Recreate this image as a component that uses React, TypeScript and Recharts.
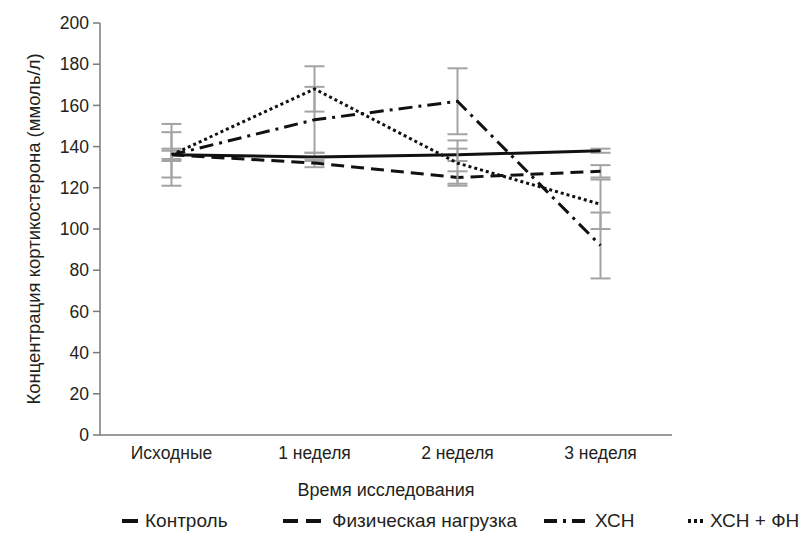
import React from "react";
import { ErrorBar, Line, LineChart, XAxis, YAxis } from "recharts";

const CATEGORIES = ["Исходные", "1 неделя", "2 неделя", "3 неделя"];

const CONTROL = [136, 135, 136, 138];
const PHYSICAL = [136, 132, 125, 128];
const CHF = [136, 153, 162, 92];
const CHF_PHYS = [136, 168, 132, 112];

const CONTROL_ERR = [2, 2, 3, 1];
const PHYSICAL_ERR = [3, 2, 3, 3];
const CHF_ERR = [11, 16, 16, 16];
const CHF_PHYS_ERR = [15, 11, 11, 12];

const Y_TICKS = [0, 20, 40, 60, 80, 100, 120, 140, 160, 180, 200];

const FONT = "'Liberation Sans', Arial, sans-serif";
const TEXT = "#231f20";
const AXIS = "#7a7a7a";
const ERR = "#a3a3a3";

const data = CATEGORIES.map((name, i) => ({
  name,
  control: CONTROL[i],
  controlErr: CONTROL_ERR[i],
  physical: PHYSICAL[i],
  physicalErr: PHYSICAL_ERR[i],
  chf: CHF[i],
  chfErr: CHF_ERR[i],
  chfPhys: CHF_PHYS[i],
  chfPhysErr: CHF_PHYS_ERR[i],
}));

// legend entries: icon left, text left, dash pattern
const legendItems = [
  { label: "Контроль", dash: undefined as string | undefined, x: 122, w: 16, tx: 145 },
  { label: "Физическая нагрузка", dash: "15 8", x: 283, w: 38, tx: 332 },
  { label: "ХСН", dash: "13 6 3 6", x: 544, w: 44, tx: 595 },
  { label: "ХСН + ФН", dash: "3 3", x: 688, w: 17, tx: 710 },
];

const YLabel = (props: any) => {
  const vb = props.viewBox || {};
  const x = 33;
  const y = vb.y + vb.height / 2;
  return (
    <text
      x={x}
      y={y}
      transform={`rotate(-90 ${x} ${y})`}
      textAnchor="middle"
      dominantBaseline="central"
      fontSize={18.5}
      fill={TEXT}
      fontFamily={FONT}
    >
      Концентрация кортикостерона (ммоль/л)
    </text>
  );
};

const XLabel = (props: any) => {
  const vb = props.viewBox || {};
  return (
    <text
      x={vb.x + vb.width / 2}
      y={vb.y + 61}
      textAnchor="middle"
      fontSize={18}
      fill={TEXT}
      fontFamily={FONT}
    >
      Время исследования
    </text>
  );
};

export default function App() {
  const lineProps = {
    type: "linear" as const,
    stroke: "#111",
    strokeWidth: 3,
    dot: false,
    activeDot: false,
    isAnimationActive: false,
  };
  const errProps = {
    direction: "y" as const,
    width: 10,
    stroke: ERR,
    strokeWidth: 2,
    isAnimationActive: false,
  };

  return (
    <div
      style={{
        position: "absolute",
        left: 0,
        top: 0,
        width: 808,
        height: 542,
        background: "#fff",
        fontFamily: FONT,
      }}
    >
      <LineChart
        width={808}
        height={542}
        data={data}
        margin={{ top: 23, right: 136, left: 0, bottom: 37 }}
      >
        <XAxis
          dataKey="name"
          height={70}
          padding={{ left: 71.5, right: 71.5 }}
          tickLine={false}
          tickSize={6}
          tickMargin={6}
          axisLine={{ stroke: AXIS, strokeWidth: 1.5 }}
          tick={{ fontSize: 17.5, fill: TEXT, fontFamily: FONT }}
          interval={0}
          label={<XLabel />}
        />
        <YAxis
          width={100}
          domain={[0, 200]}
          ticks={Y_TICKS}
          interval={0}
          tickSize={7}
          tickMargin={4}
          tickLine={{ stroke: AXIS, strokeWidth: 1.5 }}
          axisLine={{ stroke: AXIS, strokeWidth: 1.5 }}
          tick={{ fontSize: 17.5, fill: TEXT, fontFamily: FONT }}
          label={<YLabel />}
        />
        <Line {...lineProps} dataKey="control">
          <ErrorBar {...errProps} dataKey="controlErr" />
        </Line>
        <Line {...lineProps} dataKey="physical" strokeDasharray="13 7">
          <ErrorBar {...errProps} dataKey="physicalErr" />
        </Line>
        <Line {...lineProps} dataKey="chf" strokeDasharray="14 6 3 6">
          <ErrorBar {...errProps} dataKey="chfErr" />
        </Line>
        <Line {...lineProps} dataKey="chfPhys" strokeDasharray="3 3">
          <ErrorBar {...errProps} dataKey="chfPhysErr" />
        </Line>
      </LineChart>
      {legendItems.map((it) => (
        <React.Fragment key={it.label}>
          <svg
            width={it.w}
            height={10}
            style={{ position: "absolute", left: it.x, top: 516 }}
          >
            <line
              x1={0}
              y1={5}
              x2={it.w}
              y2={5}
              stroke="#111"
              strokeWidth={4}
              strokeDasharray={it.dash}
            />
          </svg>
          <span
            style={{
              position: "absolute",
              left: it.tx,
              top: 509,
              fontSize: 19,
              lineHeight: "24px",
              color: TEXT,
              whiteSpace: "nowrap",
            }}
          >
            {it.label}
          </span>
        </React.Fragment>
      ))}
    </div>
  );
}
